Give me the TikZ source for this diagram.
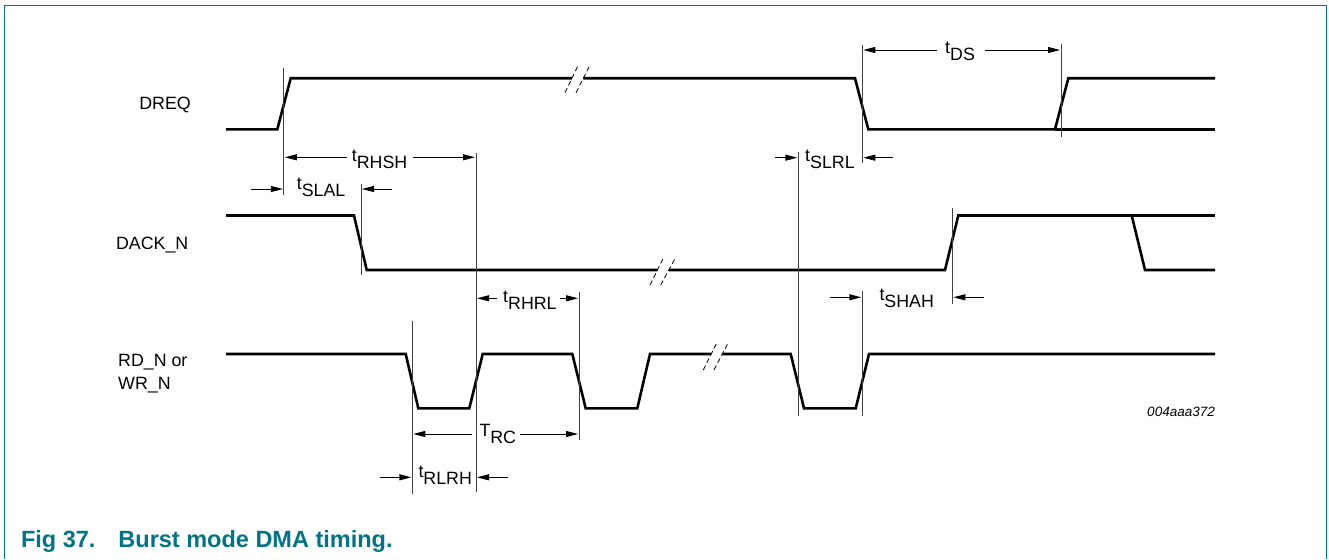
\documentclass[tikz,border=0pt]{standalone}
\usepackage{fontspec}
\setmainfont{Liberation Sans}
\usetikzlibrary{arrows.meta}
\definecolor{nxpteal}{RGB}{0,115,135}
\begin{document}
\begin{tikzpicture}[x=1pt,y=-1pt,
  sig/.style={line width=2.6pt, line join=miter},
  refline/.style={line width=0.8pt, black!75},
  dim/.style={line width=0.9pt, -{Triangle[length=12pt,width=6pt]}},
  lab/.style={inner sep=0pt, font=\fontsize{17.8}{21}\selectfont},
  brk/.style={line width=0.8pt, dash pattern=on 5pt off 3pt}]
\useasboundingbox (0,0) rectangle (1329,559);
% frame
\draw[nxpteal, line width=1.4pt] (4.5,559) -- (4.5,5.5) -- (1326.5,5.5) -- (1326.5,559);

% ---------- signal names ----------
\node[lab, anchor=base east] (dreq) at (191,109.5) {DREQ};
\node[lab, anchor=base east] (dack) at (188.5,249.3) {DACK\_N};
\node[lab, anchor=base west] (rd) at (118,366.7) {RD\_N or};
\node[lab, anchor=base west] (wr) at (118,389.3) {WR\_N};

% ---------- DREQ ----------
\draw[sig] (226,129.3) -- (277.3,129.3) -- (290.7,78.3) -- (571.9,78.3);
\draw[sig] (583.3,78.3) -- (855,78.3) -- (868.3,129.3) -- (1055,129.3) -- (1068.3,78.3) -- (1215,78.3);
\draw[sig] (1055,129.3) -- (1215,129.3);
\draw[brk] (565,92.7) -- (578.3,65);
\draw[brk] (576,92.7) -- (590,65);

% ---------- DACK_N ----------
\draw[sig] (226,215.5) -- (354,215.5) -- (366.7,270) -- (657.4,270);
\draw[sig] (668.8,270) -- (945,270) -- (958.3,215.5) -- (1131.7,215.5) -- (1145,270) -- (1215,270);
\draw[sig] (1131.7,215.5) -- (1215,215.5);
\draw[brk] (650,285) -- (664,256.7);
\draw[brk] (660.7,285) -- (676,256.7);

% ---------- RD_N / WR_N ----------
\draw[sig] (226,354) -- (405.7,354) -- (418.3,408.3) -- (469.3,408.3) -- (482.7,354) -- (572.3,354) -- (585.7,408.3) -- (637.3,408.3) -- (650,354) -- (711.2,354);
\draw[sig] (722.3,354) -- (790.7,354) -- (804,408.3) -- (855.7,408.3) -- (869,354) -- (1215,354);
\draw[brk] (703.3,370) -- (717.3,341.7);
\draw[brk] (714,370) -- (728.7,341.7);

% ---------- reference lines ----------
\draw[refline] (283.8,67.7) -- (283.8,195);
\draw[refline] (361,184) -- (361,275);
\draw[refline] (476,152.7) -- (476,492.3);
\draw[refline] (412.3,320.7) -- (412.3,494);
\draw[refline] (579,291.7) -- (579,440);
\draw[refline] (862.3,45) -- (862.3,163.3);
\draw[refline] (1061,44) -- (1061,137.3);
\draw[refline] (798.3,151.7) -- (798.3,416);
\draw[refline] (952.3,208.3) -- (952.3,304);
\draw[refline] (862.3,291) -- (862.3,416);

% ---------- timing labels ----------
\node[lab, anchor=base west] (trhsh) at (351.7,168) {\raisebox{7pt}{t}RHSH};
\node[lab, anchor=base west] (tslal) at (296.7,196) {\raisebox{7pt}{t}SLAL};
\node[lab, anchor=base west] (tds) at (945,61) {\raisebox{7pt}{t}DS};
\node[lab, anchor=base west] (tslrl) at (805,168.3) {\raisebox{7pt}{t}SLRL};
\node[lab, anchor=base west] (trhrl) at (503,309.3) {\raisebox{7pt}{t}RHRL};
\node[lab, anchor=base west] (trc) at (479.3,443.3) {\raisebox{6.6pt}{T}RC};
\node[lab, anchor=base west] (trlrh) at (418.3,484) {\raisebox{7pt}{t}RLRH};
\node[lab, anchor=base west] (tshah) at (879.3,307.3) {\raisebox{7pt}{t}SHAH};

% ---------- dimension arrows ----------
\draw[dim] (346.7,157.3) -- (284.8,157.3);
\draw[dim] (413.3,157.3) -- (475,157.3);
\draw[dim] (250.7,189) -- (282.8,189);
\draw[dim] (391.7,189) -- (362,189);
\draw[dim] (936.7,50) -- (863.3,50);
\draw[dim] (985,50) -- (1060,50);
\draw[dim] (775,157.7) -- (797.3,157.7);
\draw[dim] (893.3,157.7) -- (863.3,157.7);
\draw[dim] (496.7,298.3) -- (477,298.3);
\draw[dim] (560,298.3) -- (578,298.3);
\draw[dim] (471.7,434) -- (413.3,434);
\draw[dim] (520,434) -- (578,434);
\draw[dim] (380,477.3) -- (411.3,477.3);
\draw[dim] (508.3,477.3) -- (477,477.3);
\draw[dim] (830,297.3) -- (861.3,297.3);
\draw[dim] (984,297.3) -- (953.3,297.3);

% ---------- figure code & caption ----------
\node[inner sep=0pt, anchor=base east, font=\fontsize{13.5}{16}\selectfont\itshape] (code) at (1215,416.5) {004aaa372};
\node[inner sep=0pt, anchor=base west, text=nxpteal, font=\fontsize{23.5}{28}\selectfont\bfseries] (cap) at (20.8,547.3) {Fig 37.\hspace{23pt}Burst mode DMA timing.};
\end{tikzpicture}
\end{document}
